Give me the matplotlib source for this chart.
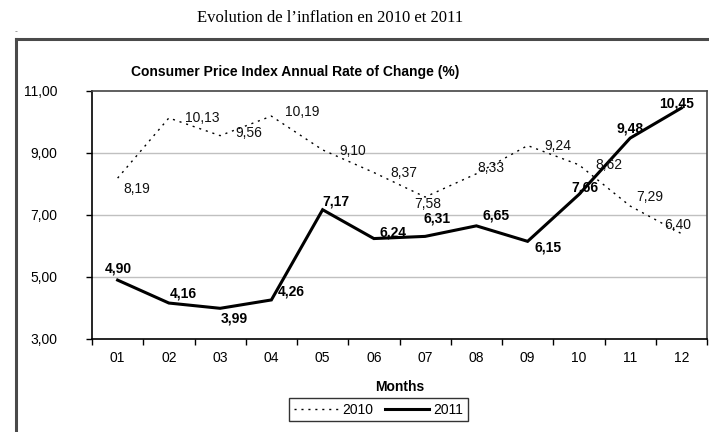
import numpy as np
import matplotlib
matplotlib.use("Agg")
import matplotlib.pyplot as plt
from matplotlib.lines import Line2D

months = ["01", "02", "03", "04", "05", "06", "07", "08", "09", "10", "11", "12"]
cpi_2010 = [8.19, 10.13, 9.56, 10.19, 9.10, 8.37, 7.58, 8.33, 9.24, 8.62, 7.29, 6.40]
cpi_2011 = [4.90, 4.16, 3.99, 4.26, 7.17, 6.24, 6.31, 6.65, 6.15, 7.66, 9.48, 10.45]
yticks = [3, 5, 7, 9, 11]

# label offsets (pixels) relative to the points
off_2010 = [(19, -11), (33, 0), (29, 3), (31, 4), (30, -1), (30, 0),
            (3, -7), (14, 6), (30, 0), (30, 0), (20, 9), (-4, 9)]
off_2011 = [(1, 12), (14, 10), (14, -10), (20, 8), (13, 8), (19, 6),
            (12, 18), (20, 10), (20, -6), (6, 7), (0, 10), (-5, 5)]

W, H = 709, 432
fig = plt.figure(figsize=(W / 100, H / 100), dpi=100)
plt.rcParams['font.family'] = ['Liberation Sans', 'DejaVu Sans']

# outer chart frame
fig.add_artist(Line2D([16 / W, 16 / W], [0, 1 - 39 / H], transform=fig.transFigure,
                      color="#4a4a4a", lw=2.2))
fig.add_artist(Line2D([16 / W, 1], [1 - 39 / H, 1 - 39 / H], transform=fig.transFigure,
                      color="#4a4a4a", lw=2.2))

fig.text(330 / W, 1 - 18 / H, "Evolution de l\u2019inflation en 2010 et 2011",
         family=['Liberation Serif', 'DejaVu Serif'], fontsize=12, ha='center', va='center')
fig.text(14 / W, 1 - 31 / H, "..", fontsize=5, color="#444444", ha='left', va='center')
fig.text(295 / W, 1 - 72 / H, "Consumer Price Index Annual Rate of Change (%)",
         fontsize=10, fontweight='bold', ha='center', va='center')

ax = fig.add_axes([92 / W, 1 - 339 / H, 615 / W, 248 / H])
x = np.arange(1, len(months) + 1)

l1, = ax.plot(x, cpi_2010, color='black', lw=1.0, linestyle=(0, (1.5, 3.5)), label='2010')
l2, = ax.plot(x, cpi_2011, color='black', lw=2.2, label='2011', solid_joinstyle='miter')

for xi, v, (dx, dy) in zip(x, cpi_2010, off_2010):
    ax.annotate(f"{v:.2f}".replace('.', ','), (xi, v), xytext=(dx * 0.72, dy * 0.72),
                textcoords='offset points', ha='center', va='center', fontsize=10, color='#111111')
for xi, v, (dx, dy) in zip(x, cpi_2011, off_2011):
    ax.annotate(f"{v:.2f}".replace('.', ','), (xi, v), xytext=(dx * 0.72, dy * 0.72),
                textcoords='offset points', ha='center', va='center', fontsize=10,
                fontweight='bold', color='black')

ax.set_xlim(0.5, len(months) + 0.5)
ax.set_ylim(yticks[0], yticks[-1])
ax.set_yticks(yticks)
ax.set_yticklabels([f"{t:.2f}".replace('.', ',') for t in yticks], fontsize=10)
ax.tick_params(axis='y', direction='out', length=4, width=1, pad=21)
for t in ax.get_yticklabels():
    t.set_ha('right')

ax.set_xticks(np.arange(0.5, len(months) + 1, 1.0))
ax.set_xticklabels([])
ax.tick_params(axis='x', which='major', direction='out', length=4, width=1)
ax.set_xticks(x, minor=True)
ax.set_xticklabels(months, minor=True, fontsize=10)
ax.tick_params(axis='x', which='minor', length=0, pad=9)

for g in yticks[1:-1]:
    ax.axhline(g, color='#c0c0c0', lw=1, zorder=0)

for s in ax.spines.values():
    s.set_color('black')
    s.set_linewidth(1.2)
ax.spines['right'].set_color('#444444')
ax.spines['top'].set_color('#444444')

ax.set_xlabel("Months", fontsize=10, fontweight='bold')
ax.xaxis.set_label_coords(0.5, -(387 - 339) / 248)
ax.xaxis.label.set_va('center')

leg = fig.legend(handles=[l1, l2], loc='center', bbox_to_anchor=(378.5 / W, 1 - 409.5 / H),
                 ncol=2, frameon=True, fancybox=False, edgecolor='black', fontsize=10,
                 handlelength=3.2, handletextpad=0.3, columnspacing=0.8,
                 borderpad=0.35, borderaxespad=0)
leg.get_frame().set_linewidth(1.0)

fig.savefig("out.png", dpi=100)
